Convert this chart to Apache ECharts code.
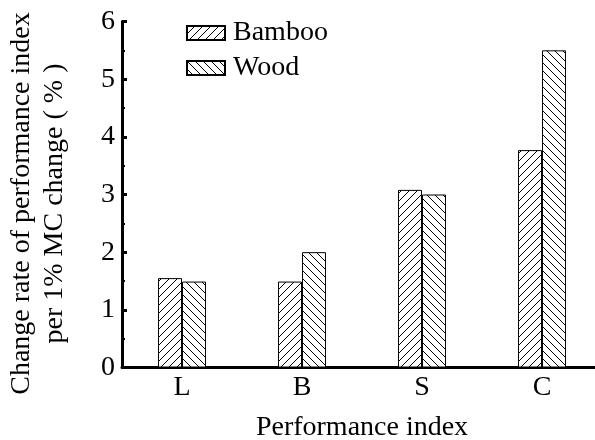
<!DOCTYPE html>
<html>
<head>
<meta charset="utf-8">
<script src="https://cdn.jsdelivr.net/npm/echarts@6/dist/echarts.min.js"></script>
<style>
  html, body { margin: 0; padding: 0; background: #fff; }
  #chart { width: 595px; height: 440px; }
</style>
</head>
<body>
<div id="chart"></div>
<script>
// Performance indices and change rates per 1% moisture content change
const categories = ['L', 'B', 'S', 'C'];
const bambooValues = [1.55, 1.49, 3.08, 3.77];
const woodValues = [1.49, 2.0, 3.0, 5.5];
const yTicks = [0, 1, 2, 3, 4, 5, 6];

// Diagonal hatch fills: '/' for bamboo, '\' for wood
function hatch(forward) {
  const s = 8;
  const c = document.createElement('canvas');
  c.width = s; c.height = s;
  const g = c.getContext('2d');
  g.fillStyle = '#fff';
  g.fillRect(0, 0, s, s);
  g.strokeStyle = '#000';
  g.lineWidth = 1;
  g.beginPath();
  if (forward) {
    g.moveTo(-1, s + 1); g.lineTo(s + 1, -1);
    g.moveTo(-1, 1); g.lineTo(1, -1);
    g.moveTo(s - 1, s + 1); g.lineTo(s + 1, s - 1);
  } else {
    g.moveTo(-1, -1); g.lineTo(s + 1, s + 1);
    g.moveTo(s - 1, -1); g.lineTo(s + 1, 1);
    g.moveTo(-1, s - 1); g.lineTo(1, s + 1);
  }
  g.stroke();
  return { image: c, repeat: 'repeat' };
}

const font = '"Liberation Serif", "Times New Roman", serif';
const fs = 28;
const chart = echarts.init(document.getElementById('chart'));

chart.setOption({
  animation: false,
  textStyle: { fontFamily: font, color: '#000' },
  grid: { left: 122, top: 21.5, width: 480, bottom: 72.5, outerBoundsMode: 'none', containLabel: false },
  legend: {
    orient: 'vertical',
    left: 181,
    top: 14,
    icon: 'rect',
    itemWidth: 38,
    itemHeight: 14,
    itemGap: 7,
    textStyle: { fontFamily: font, fontSize: fs, color: '#000', lineHeight: 28, padding: [0, 0, 0, 3] },
    data: ['Bamboo', 'Wood']
  },
  xAxis: [
    {
      type: 'category',
      data: categories,
      name: 'Performance index',
      nameLocation: 'middle',
      nameGap: 46,
      nameTextStyle: { fontFamily: font, fontSize: fs, color: '#000' },
      axisLine: { lineStyle: { color: '#000', width: 3 } },
      axisTick: { inside: true, alignWithLabel: true, length: 4, lineStyle: { width: 3, color: '#000' } },
      axisLabel: { fontFamily: font, fontSize: fs, color: '#000', margin: 6 },
      splitLine: { show: false }
    },
    {
      // band-boundary marks along the bottom axis
      type: 'category',
      data: categories,
      position: 'bottom',
      axisLine: { show: false },
      axisTick: { inside: true, length: 2, lineStyle: { width: 2, color: '#000' } },
      axisLabel: { show: false },
      splitLine: { show: false }
    }
  ],
  yAxis: {
    type: 'value',
    min: yTicks[0],
    max: yTicks[yTicks.length - 1],
    interval: 1,
    name: 'Change rate of performance index\nper 1% MC change ( % )',
    nameLocation: 'middle',
    nameGap: 51,
    nameTextStyle: { fontFamily: font, fontSize: fs, color: '#000', lineHeight: 33, padding: [0, 18, 0, 0] },
    axisLine: { show: true, lineStyle: { color: '#000', width: 3 } },
    axisTick: { show: true, inside: true, length: 5, lineStyle: { width: 3, color: '#000' } },
    minorTick: { show: true, splitNumber: 2, length: 3, lineStyle: { width: 2, color: '#000' } },
    axisLabel: { fontFamily: font, fontSize: fs, color: '#000', margin: 7 },
    splitLine: { show: false }
  },
  series: [
    {
      name: 'Bamboo',
      type: 'bar',
      data: bambooValues,
      barWidth: 24,
      barGap: '0%',
      itemStyle: { color: hatch(true), borderColor: '#000', borderWidth: 1 }
    },
    {
      name: 'Wood',
      type: 'bar',
      data: woodValues,
      barWidth: 24,
      barGap: '0%',
      itemStyle: { color: hatch(false), borderColor: '#000', borderWidth: 1 }
    }
  ]
});
</script>
</body>
</html>
